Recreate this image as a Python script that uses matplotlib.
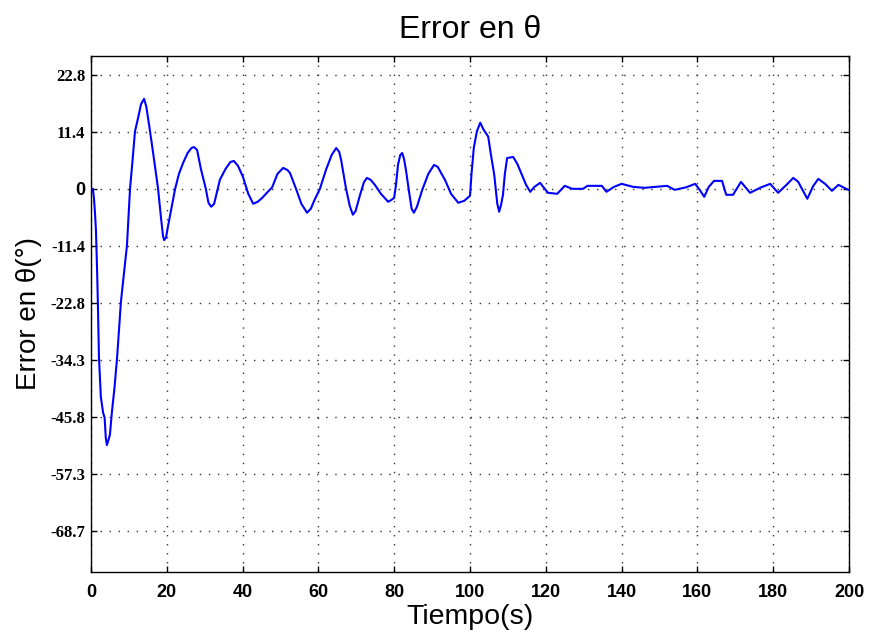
import numpy as np
import matplotlib
matplotlib.use('Agg')
import matplotlib.pyplot as plt

# Error curve (time in s, error in degrees)
t = [0.0, 0.5, 0.8, 1.05, 1.3, 1.6, 1.8, 2.1, 2.6, 3.2, 3.6, 3.9, 4.2, 4.6, 5.0, 5.5,
     6.2, 6.9, 7.9, 8.7, 9.5, 10.3, 11.0, 11.6, 12.5, 13.2, 14.0, 14.6, 15.4, 16.4,
     17.7, 18.5, 19.0, 19.3, 19.8, 20.3, 21.2, 22.2, 23.2, 24.3, 25.5, 26.5, 27.2,
     28.0, 29.0, 30.3, 31.0, 31.7, 32.5, 34.0, 35.5, 36.8, 37.7, 38.8, 40.1, 41.5,
     42.8, 44.0, 45.2, 46.4, 47.8, 49.2, 50.7, 51.8, 52.5, 54.1, 55.5, 57.0, 58.0,
     59.0, 60.4, 62.0, 63.5, 64.7, 65.5, 66.0, 67.3, 68.3, 69.1, 69.8, 71.0, 72.0,
     72.8, 73.8, 74.9, 76.5, 78.4, 79.3, 80.0, 80.5, 81.0, 81.6, 82.1, 82.6, 83.1,
     84.0, 84.6, 85.2, 86.0, 87.4, 89.0, 90.5, 91.5, 93.4, 95.0, 96.9, 98.5, 100.0,
     100.4, 101.0, 101.8, 102.7, 103.5, 104.8, 105.5, 106.4, 107.2, 107.7, 108.2,
     108.7, 109.2, 109.8, 111.4, 112.5, 113.7, 114.8, 115.9, 117.0, 118.5, 119.3,
     120.6, 123.0, 125.0, 127.0, 129.8, 131.0, 134.8, 136.0, 138.0, 140.0, 143.0,
     146.0, 149.0, 152.0, 154.0, 157.0, 159.4, 160.6, 161.8, 163.0, 164.4, 166.5,
     167.6, 169.4, 171.5, 173.9, 176.5, 179.2, 181.3, 183.5, 185.3, 186.6, 189.0,
     190.5, 191.9, 193.7, 195.5, 197.2, 199.8]
err = [0.0, 0.0, -2.0, -4.8, -8.2, -16.0, -22.3, -33.8, -41.8, -45.0, -46.0, -50.0,
       -51.5, -50.5, -49.4, -45.0, -40.0, -33.8, -22.7, -17.0, -11.3, 0.0, 6.0, 11.5,
       14.5, 17.0, 18.1, 16.5, 12.5, 7.2, 0.0, -6.0, -9.5, -10.3, -9.8, -7.6, -4.0,
       0.0, 3.0, 5.2, 7.2, 8.2, 8.4, 7.8, 4.0, 0.0, -2.8, -3.6, -3.0, 1.8, 4.0, 5.4,
       5.6, 4.6, 2.4, -1.0, -3.0, -2.6, -1.8, -0.8, 0.3, 3.0, 4.2, 3.8, 3.2, 0.0,
       -3.0, -4.8, -4.0, -2.2, 0.0, 3.8, 6.8, 8.2, 7.4, 5.8, 0.0, -3.5, -5.2, -4.5,
       -1.2, 1.3, 2.2, 1.8, 0.8, -1.0, -2.6, -2.2, -1.8, 1.0, 4.8, 6.8, 7.2, 6.0,
       3.8, -1.0, -4.0, -4.8, -3.6, -0.2, 3.0, 4.8, 4.4, 1.8, -1.0, -2.8, -2.4, -1.4,
       3.0, 8.2, 11.5, 13.3, 12.0, 10.5, 7.0, 2.8, -3.0, -4.6, -3.2, -1.2, 3.0, 6.2,
       6.4, 5.0, 2.8, 0.8, -0.6, 0.4, 1.2, 0.4, -0.8, -1.0, 0.6, 0.0, 0.0, 0.6, 0.6,
       -0.6, 0.4, 1.0, 0.4, 0.2, 0.4, 0.6, -0.2, 0.3, 1.0, -0.2, -1.6, 0.4, 1.6, 1.6,
       -1.2, -1.2, 1.4, -0.8, 0.2, 1.0, -0.8, 0.8, 2.2, 1.4, -2.0, 0.5, 2.0, 1.0,
       -0.4, 0.8, -0.2]

xticks = [0, 20, 40, 60, 80, 100, 120, 140, 160, 180, 200]
# tick positions are multiples of 0.2 rad shown in degrees
ytick_rad = [0.4, 0.2, 0.0, -0.2, -0.4, -0.6, -0.8, -1.0, -1.2]
ytick_labels = ['22.8', '11.4', '0', '-11.4', '-22.8', '-34.3', '-45.8', '-57.3', '-68.7']

fig = plt.figure(figsize=(8.74, 6.39), dpi=100)
ax = fig.add_axes([0.1041, 0.1049, 0.8673, 0.8075])

ax.plot(t, err, color='#0000ff', lw=1.5)

ax.set_xlim(0, 200)
ax.set_ylim(-77.0, 26.7)
ax.set_xticks(xticks)
ax.set_xticklabels([str(x) for x in xticks], fontsize=13, family='Liberation Sans',
                   fontweight='bold')
ax.set_yticks(np.degrees(ytick_rad))
ax.set_yticklabels(ytick_labels, fontsize=12, family='Liberation Serif', fontweight='bold')
for lab in ax.get_yticklabels():
    if lab.get_text() == '0':
        lab.set_family('Liberation Sans')
        lab.set_fontsize(13)

ax.tick_params(direction='in', length=4, width=1, top=True, right=True)
ax.tick_params(axis='x', pad=9)
ax.tick_params(axis='y', pad=4)
ax.grid(True, color='0.2', linestyle=(0, (1, 5.5)), linewidth=1)
for s in ax.spines.values():
    s.set_linewidth(1)

ax.set_title('Error en θ', fontsize=23, family='Liberation Sans', pad=13)
ax.set_xlabel('Tiempo(s)', fontsize=20.5, family='Liberation Sans', labelpad=2)
ax.set_ylabel('Error en θ(°)', fontsize=20, family='Liberation Sans', labelpad=6)

fig.savefig('out.png', dpi=100)
